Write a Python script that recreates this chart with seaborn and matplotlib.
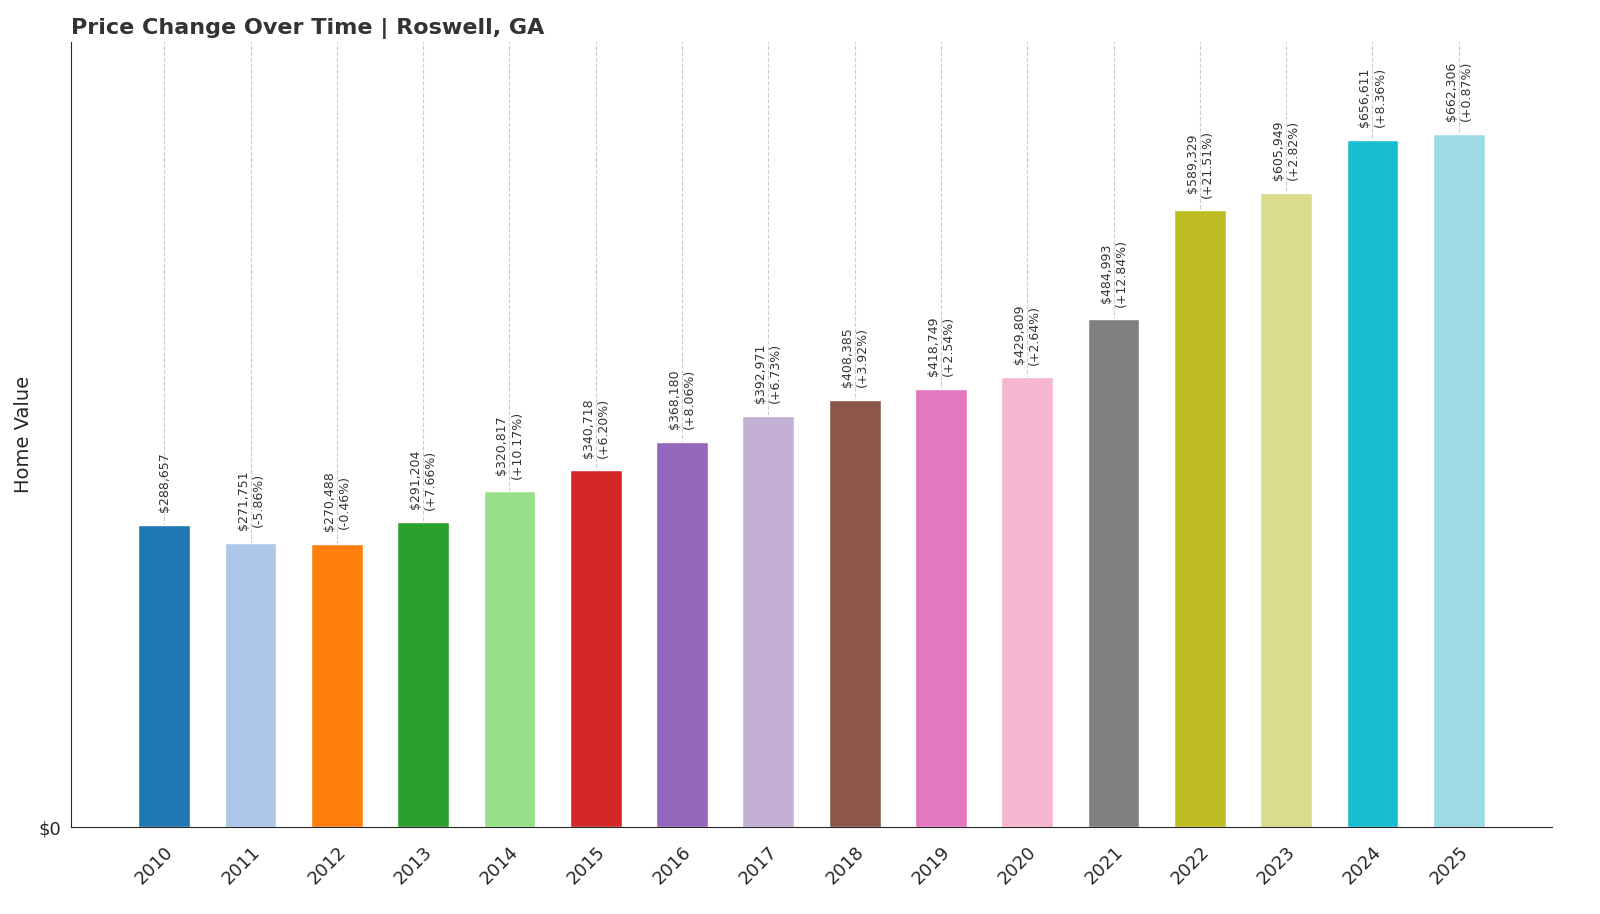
import pandas as pd
import matplotlib.pyplot as plt
import seaborn as sns

# === Data ===
years = [str(y) for y in range(2010, 2026)]
values = [288657, 271751, 270488, 291204, 320817, 340718, 368180, 392971,
          408385, 418749, 429809, 484993, 589329, 605949, 656611, 662306]
changes = [None, "-5.86%", "-0.46%", "+7.66%", "+10.17%", "+6.20%", "+8.06%", "+6.73%",
           "+3.92%", "+2.54%", "+2.64%", "+12.84%", "+21.51%", "+2.82%", "+8.36%", "+0.87%"]
bar_colors = ["#1f77b4", "#aec7e8", "#ff7f0e", "#2ca02c", "#98df8a", "#d62728",
              "#9467bd", "#c5b0d5", "#8c564b", "#e377c2", "#f7b6d2", "#7f7f7f",
              "#bcbd22", "#dbdb8d", "#17becf", "#9edae5"]

df = pd.DataFrame({"Year": years, "Value": values})

# === Plot ===
sns.set_style("white")
fig = plt.figure(figsize=(16, 9.14), dpi=100)
ax = fig.add_axes([0.0444, 0.095, 0.9256, 0.859])

sns.barplot(data=df, x="Year", y="Value", hue="Year", palette=bar_colors,
            width=0.6, legend=False, ax=ax, saturation=1, zorder=2)

for i, (v, c) in enumerate(zip(values, changes)):
    label = f"${v:,}" if c is None else f"${v:,}\n({c})"
    ax.text(i, v + 12000, label, rotation=90, ha="center", va="bottom", fontsize=9, color="#333333")

ax.set_xlim(-1.08, 16.08)
ax.set_ylim(0, 750000)
ax.set_yticks([0])
ax.set_yticklabels(["$0"], fontsize=13)
ax.tick_params(axis="x", labelsize=13, rotation=45, pad=8)
for lbl in ax.get_xticklabels():
    lbl.set_ha("right")
    lbl.set_rotation_mode("anchor")
ax.xaxis.grid(True, linestyle="--", color="#cccccc", linewidth=0.8, zorder=0)
ax.set_axisbelow(True)
ax.set_xlabel("")
ax.set_ylabel("Home Value", fontsize=14)
sns.despine(ax=ax)
ax.set_title("Price Change Over Time | Roswell, GA", loc="left", fontsize=16,
             fontweight="bold", color="#333333")

plt.savefig("out.png", dpi=100)
